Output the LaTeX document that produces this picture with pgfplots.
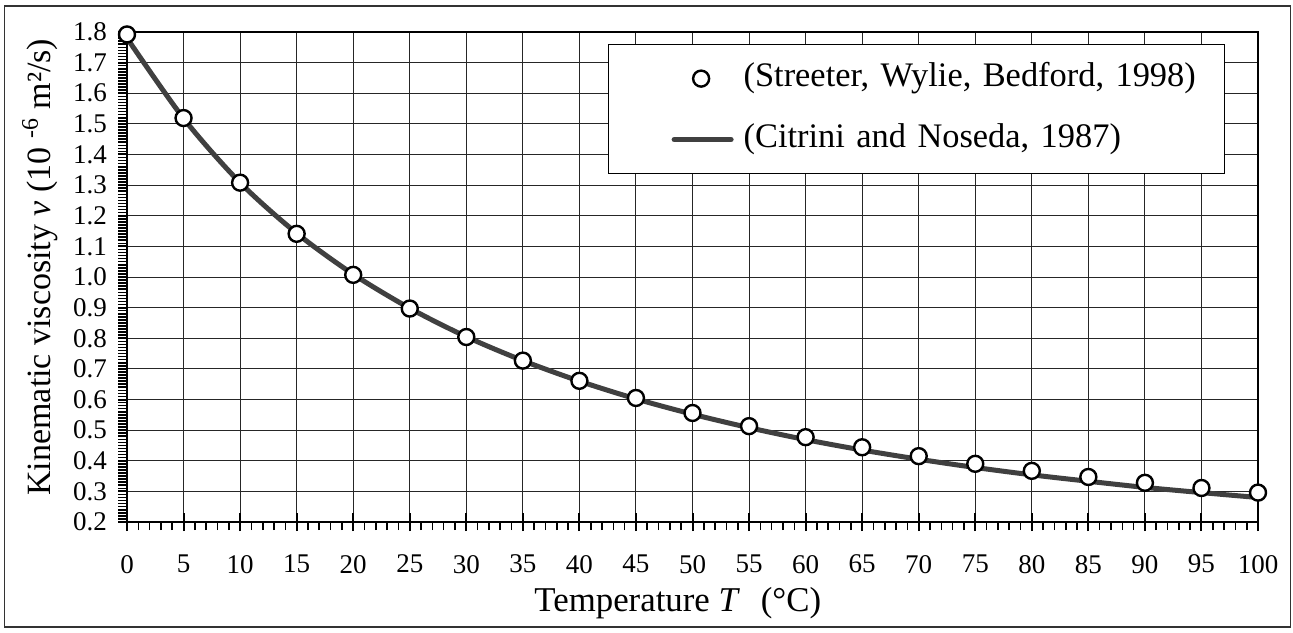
\documentclass[border=0pt]{standalone}
\usepackage{fontspec}
\setmainfont{Liberation Serif}
\usepackage{pgfplots}
\pgfplotsset{compat=1.18}
\definecolor{curve}{HTML}{404040}
\pgfplotsset{
  mylineimg/.style={legend image code/.code={\path (0pt,0pt) (60pt,0pt); \draw[##1] (31.5pt,0pt) -- (60pt,0pt);}},
  mymarkimg/.style={legend image code/.code={\path (0pt,0pt) (60pt,0pt); \draw[##1] plot coordinates {(45pt,0pt)};}},
}
\begin{document}
\begin{tikzpicture}
\useasboundingbox (0,0) rectangle (646.5pt,316pt);
\draw[black!80, line width=0.6pt] (2.2pt,2.5pt) rectangle (645.3pt,313pt);
\begin{axis}[
  at={(63.5pt,55pt)}, anchor=south west,
  scale only axis, width=565.5pt, height=245pt,
  xmin=0, xmax=100, ymin=0.2, ymax=1.8,
  clip=false,
  xtick={0,5,...,100}, xticklabels={},
  ytick={0.2,0.3,0.4,0.5,0.6,0.7,0.8,0.9,1.0,1.1,1.2,1.3,1.4,1.5,1.6,1.7,1.8},
  minor x tick num=0, minor y tick num=9,
  ytick pos=left,
  tick align=outside, major tick length=4.5pt, minor tick length=4.5pt,
  x tick style={draw=none},
  every major y tick/.append style={black, line width=1pt},
  every minor y tick/.append style={black, line width=0.8pt},
  grid=major, major grid style={black!85, line width=0.5pt},
  axis line style={black, line width=1.3pt},
  /pgf/number format/assume math mode=true,
  yticklabel style={font=\fontsize{13.5}{15}\selectfont, /pgf/number format/fixed, /pgf/number format/fixed zerofill, /pgf/number format/precision=1},
  yticklabel shift=2pt,
  xlabel={Temperature \textit{T}\hspace{0.6em}(°C)},
  xlabel style={at={(axis description cs:0.487,-0.1653)}, anchor=center, font=\fontsize{17.4}{19}\selectfont},
  ylabel={Kinematic viscosity \textit{v} (10 \textsuperscript{-6} m²/s)},
  ylabel style={at={(axis description cs:-0.0769,0.52)}, anchor=center, font=\fontsize{17}{19}\selectfont},
  reverse legend,
  legend cell align=left,
  legend style={at={(axis description cs:0.4253,0.9755)}, anchor=north west, draw=black, line width=0.6pt, fill=white,
    inner xsep=0pt, inner ysep=9.2pt, row sep=14.9pt, column sep=5pt,
    font=\fontsize{17.2}{19}\selectfont,
    nodes={inner sep=0pt, text height=11.6pt, text depth=4pt, text width=240.5pt, align=left}},
]
\addplot[color=curve, line width=2.5pt, line cap=round, smooth, no marks, mylineimg]
coordinates {
(0,1.780)(5,1.518)(10,1.308)(15,1.143)(20,1.009)(25,0.898)(30,0.805)(35,0.727)(40,0.660)(45,0.602)(50,0.552)(55,0.508)(60,0.469)(65,0.435)(70,0.405)(75,0.378)(80,0.354)(85,0.333)(90,0.313)(95,0.296)(100,0.280)
};
\addlegendentry{(Citrini and Noseda, 1987)}
\addplot[only marks, mark=*, mark size=4pt, mark options={fill=white, draw=black, line width=1.2pt}, mymarkimg]
coordinates {
(0,1.792)(5,1.519)(10,1.308)(15,1.141)(20,1.007)(25,0.897)(30,0.804)(35,0.727)(40,0.661)(45,0.605)(50,0.556)(55,0.513)(60,0.477)(65,0.444)(70,0.415)(75,0.390)(80,0.367)(85,0.347)(90,0.328)(95,0.311)(100,0.296)
};
\addlegendentry{(Streeter, Wylie, Bedford, 1998)}
\end{axis}
\begin{axis}[
  at={(63.5pt,55pt)}, anchor=south west,
  scale only axis, width=565.5pt, height=245pt,
  xmin=0, xmax=100, ymin=0.2, ymax=1.8,
  axis line style={draw=none},
  ytick=\empty,
  xtick={0,5,...,100}, minor x tick num=4,
  xtick pos=left,
  tick align=center, major tick length=9pt, minor tick length=4pt,
  every major x tick/.append style={black, line width=1pt},
  every minor x tick/.append style={black, line width=0.8pt, yshift=-2pt},
  /pgf/number format/assume math mode=true,
  xticklabel style={font=\fontsize{13.5}{15}\selectfont},
  xticklabel shift=8.5pt,
]
\end{axis}
\end{tikzpicture}
\end{document}
